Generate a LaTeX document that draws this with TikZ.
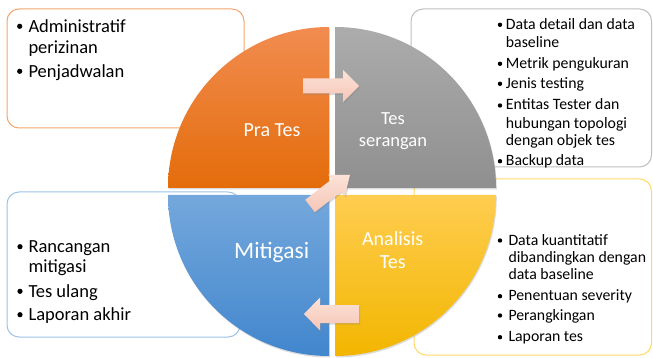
\documentclass[tikz,border=0pt]{standalone}
\usepackage{fontspec}
\setmainfont{Carlito}
\usetikzlibrary{shadows}

% palette
\definecolor{orTop}{RGB}{241,140,80}
\definecolor{orBot}{RGB}{228,108,10}
\definecolor{grTop}{RGB}{172,172,172}
\definecolor{grBot}{RGB}{143,143,143}
\definecolor{blTop}{RGB}{116,168,220}
\definecolor{blBot}{RGB}{66,134,205}
\definecolor{yeTop}{RGB}{255,205,80}
\definecolor{yeBot}{RGB}{242,182,0}
\definecolor{arTop}{RGB}{252,226,216}
\definecolor{arBot}{RGB}{245,198,182}
\definecolor{lnOrange}{RGB}{242,165,112}
\definecolor{lnGray}{RGB}{191,191,191}
\definecolor{lnBlue}{RGB}{157,195,230}
\definecolor{lnYellow}{RGB}{255,217,102}

% block arrow: tail point, angle, length, body half width, head half width, head length
\newcommand\blockarrow[6]{%
  \path[blk, shift={(#1)}, rotate=#2]
    (0,-#4) -- (#3-#6,-#4) -- (#3-#6,-#5) -- (#3,0) -- (#3-#6,#5)
    -- (#3-#6,#4) -- (0,#4) -- cycle;}

\begin{document}
\begin{tikzpicture}[x=1pt,y=-1pt,
  note/.style={rounded corners=12pt, fill=white, line width=1pt},
  quad/.style={drop shadow={shadow xshift=0.8pt, shadow yshift=-1.5pt, opacity=.28}},
  blk/.style={top color=arTop, bottom color=arBot,
    drop shadow={shadow xshift=1pt, shadow yshift=-1.5pt, opacity=.3}},
  big/.style={font=\fontsize{18.5}{22}\selectfont, inner sep=0pt, anchor=base west},
  small/.style={font=\fontsize{15.8}{19}\selectfont, inner sep=0pt, anchor=base west},
  bulbig/.style={circle, fill=black, inner sep=0pt, minimum size=5.2pt},
  bulsmall/.style={circle, fill=black, inner sep=0pt, minimum size=4.4pt},
  lbl/.style={text=white, inner sep=0pt, anchor=base}]
\useasboundingbox (0,0) rectangle (653,358);

% text boxes (behind the wheel)
\draw[note, draw=lnOrange] (7,9) rectangle (244,128);
\draw[note, draw=lnGray] (411,9) rectangle (651.5,167);
\draw[note, draw=lnBlue] (7,192) rectangle (240,337);
\draw[note, draw=lnYellow] (414,179) rectangle (651.5,355);

% four quarters of the wheel
\path[quad, top color=orTop, bottom color=orBot]
  (329,188) -- ++(-161,0) arc[start angle=180, end angle=270, radius=161] -- cycle;
\path[quad, top color=grTop, bottom color=grBot]
  (335,188) -- ++(0,-161) arc[start angle=270, end angle=360, radius=161] -- cycle;
\path[quad, top color=yeTop, bottom color=yeBot]
  (335,195) -- ++(161,0) arc[start angle=0, end angle=90, radius=161] -- cycle;
\path[quad, top color=blTop, bottom color=blBot]
  (329,195) -- ++(0,161) arc[start angle=90, end angle=180, radius=161] -- cycle;

% arrows between phases
\coordinate (a1) at (303,86);
\coordinate (a2) at (310,206);
\coordinate (a3) at (359,314);
\blockarrow{a1}{0}{56}{7.5}{16}{16}
\blockarrow{a2}{37.8}{50.6}{7.8}{13.5}{17}
\blockarrow{a3}{180}{55}{9}{16.5}{16}

% phase labels
\node[lbl, font=\fontsize{20}{24}\selectfont] (pra) at (272,136.7) {Pra Tes};
\node[lbl, font=\fontsize{18.5}{22}\selectfont] (ser1) at (393,125) {Tes};
\node[lbl, font=\fontsize{18.5}{22}\selectfont] (ser2) at (393,146.7) {serangan};
\node[lbl, font=\fontsize{23.5}{28}\selectfont] (mit) at (271.7,258.3) {Mitigasi};
\node[lbl, font=\fontsize{20}{24}\selectfont] (ana1) at (392.7,245) {Analisis};
\node[lbl, font=\fontsize{20}{24}\selectfont] (ana2) at (392.7,268.3) {Tes};

% Pra Tes items
\node[bulbig] (p1d) at (19.7,26.3) {};
\node[big] (p1a) at (28.3,32.3) {Administratif};
\node[big] (p1b) at (28.3,53.3) {perizinan};
\node[bulbig] (p2d) at (19.7,71.3) {};
\node[big] (p2a) at (28.3,77.3) {Penjadwalan};

% Tes serangan items
\node[bulsmall] (s1d) at (500,24.8) {};
\node[small] (s1a) at (505.7,29.3) {Data detail dan data};
\node[small] (s1b) at (505.7,47.3) {baseline};
\node[bulsmall] (s2d) at (500,63.8) {};
\node[small] (s2a) at (505.7,68.3) {Metrik pengukuran};
\node[bulsmall] (s3d) at (500,83.8) {};
\node[small] (s3a) at (505.7,88.3) {Jenis testing};
\node[bulsmall] (s4d) at (500,105.5) {};
\node[small] (s4a) at (505.7,110) {Entitas Tester dan};
\node[small] (s4b) at (505.7,128.3) {hubungan topologi};
\node[small] (s4c) at (505.7,146) {dengan objek tes};
\node[bulsmall] (s5d) at (500,161.2) {};
\node[small] (s5a) at (505.7,165.7) {Backup data};

% Mitigasi items
\node[bulbig] (m1d) at (20,246.7) {};
\node[big] (m1a) at (28.3,252.7) {Rancangan};
\node[big] (m1b) at (28.3,272.7) {mitigasi};
\node[bulbig] (m2d) at (20,291.3) {};
\node[big] (m2a) at (28.3,297.3) {Tes ulang};
\node[bulbig] (m3d) at (20,314.7) {};
\node[big] (m3a) at (28.3,320.7) {Laporan akhir};

% Analisis Tes items
\node[bulsmall] (t1d) at (500,240.5) {};
\node[small] (t1a) at (508.3,245) {Data kuantitatif};
\node[small] (t1b) at (508.3,262.3) {dibandingkan dengan};
\node[small] (t1c) at (508.3,279.3) {data baseline};
\node[bulsmall] (t2d) at (500,296.2) {};
\node[small] (t2a) at (508.3,300.7) {Penentuan severity};
\node[bulsmall] (t3d) at (500,315.5) {};
\node[small] (t3a) at (508.3,320) {Perangkingan};
\node[bulsmall] (t4d) at (500,337.2) {};
\node[small] (t4a) at (508.3,341.7) {Laporan tes};
\end{tikzpicture}
\end{document}
